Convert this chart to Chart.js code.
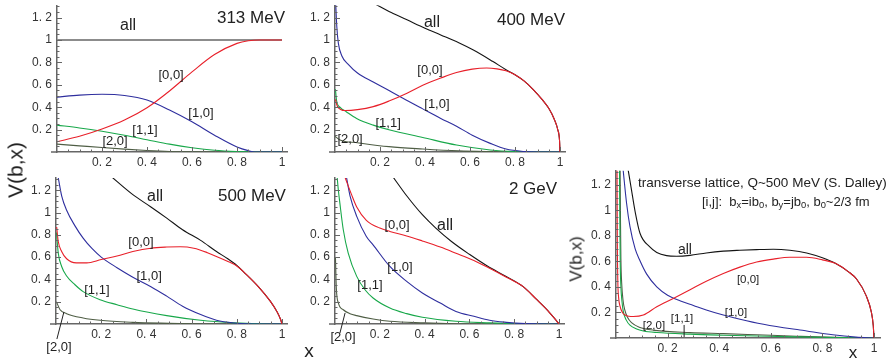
<!DOCTYPE html>
<html><head><meta charset="utf-8">
<script src="https://cdn.jsdelivr.net/npm/chart.js@4.4.1/dist/chart.umd.min.js"></script>
<style>
html,body{margin:0;padding:0;background:#fff;}
#wrap{position:relative;width:892px;height:359px;overflow:hidden;background:#fff;font-family:'Liberation Sans',Arial,sans-serif;color:#222;}
canvas{position:absolute;left:0;top:0;}
.lbl{position:absolute;white-space:nowrap;line-height:1;transform:translate(-50%,-50%);}
.rot{transform:translate(-50%,-50%) rotate(-90deg);}
</style></head><body>
<div id="wrap">
<canvas id="c313" width="892" height="359"></canvas>
<canvas id="c400" width="892" height="359"></canvas>
<canvas id="c500" width="892" height="359"></canvas>
<canvas id="c2g" width="892" height="359"></canvas>
<canvas id="clat" width="892" height="359"></canvas>
<div class="lbl rot" style="left:15px;top:170px;font-size:21px;">V(b,x)</div>
<div class="lbl rot" style="left:576px;top:259px;font-size:17px;">V(b,x)</div>
<div class="lbl" style="left:309px;top:350px;font-size:19px;">x</div>
<div class="lbl" style="left:853px;top:352px;font-size:17px;">x</div>
</div>
<script>
// ---------- tick labels ----------
const xTickValues = [0.2, 0.4, 0.6, 0.8, 1];
const xTickLabels = ['0. 2', '0. 4', '0. 6', '0. 8', '1'];
const yTickValues = [0.2, 0.4, 0.6, 0.8, 1, 1.2];
const yTickLabels = ['0. 2', '0. 4', '0. 6', '0. 8', '1', '1. 2'];
const seriesNames = ['all', '[0,0]', '[1,0]', '[1,1]', '[2,0]'];

// ---------- 313 MeV ----------
const mev313_all = [[0,1],[1,1]];
const mev313_00 = [[0,0.092],[0.1,0.14],[0.2,0.205],[0.3,0.285],[0.4,0.395],[0.5,0.545],[0.6,0.715],[0.7,0.87],[0.8,0.97],[0.85,0.993],[0.9,1],[1,1]];
const mev313_10 = [[0,0.49],[0.1,0.508],[0.2,0.515],[0.3,0.505],[0.4,0.465],[0.5,0.375],[0.6,0.27],[0.7,0.15],[0.8,0.045],[0.85,0.012],[0.88,0],[1,0]];
const mev313_11 = [[0,0.24],[0.1,0.215],[0.2,0.185],[0.3,0.15],[0.4,0.11],[0.5,0.07],[0.6,0.038],[0.7,0.015],[0.8,0.004],[0.9,0],[1,0]];
const mev313_20 = [[0,0.07],[0.1,0.055],[0.2,0.04],[0.3,0.026],[0.4,0.014],[0.5,0.005],[0.6,0.001],[0.7,0],[1,0]];

// ---------- 400 MeV ----------
const mev400_all = [[0.17,1.33],[0.25,1.245],[0.32,1.18],[0.4,1.105],[0.47,1.045],[0.55,0.975],[0.615,0.91],[0.7,0.81],[0.76,0.735],[0.8,0.69],[0.84,0.635],[0.88,0.56],[0.92,0.47],[0.95,0.39],[0.975,0.29],[0.99,0.2],[0.998,0.1],[1,0]];
const mev400_00 = [[0.002,0.47],[0.01,0.41],[0.025,0.38],[0.045,0.37],[0.1,0.378],[0.17,0.405],[0.24,0.455],[0.32,0.525],[0.39,0.595],[0.47,0.66],[0.54,0.71],[0.61,0.74],[0.674,0.75],[0.72,0.742],[0.76,0.725],[0.8,0.69],[0.84,0.635],[0.88,0.56],[0.92,0.47],[0.95,0.39],[0.975,0.29],[0.99,0.2],[0.998,0.1],[1,0]];
const mev400_10 = [[0.003,1.33],[0.008,1.12],[0.015,0.97],[0.03,0.86],[0.06,0.78],[0.1,0.705],[0.17,0.625],[0.244,0.545],[0.3,0.482],[0.39,0.385],[0.47,0.30],[0.54,0.23],[0.61,0.15],[0.69,0.077],[0.76,0.026],[0.84,0.004],[0.9,0],[1,0]];
const mev400_11 = [[0.002,0.56],[0.007,0.46],[0.022,0.40],[0.05,0.36],[0.096,0.30],[0.17,0.24],[0.244,0.196],[0.39,0.13],[0.54,0.062],[0.69,0.018],[0.8,0.003],[0.9,0],[1,0]];
const mev400_20 = [[0,0.14],[0.022,0.107],[0.1,0.083],[0.24,0.048],[0.39,0.027],[0.55,0.01],[0.7,0.003],[0.8,0],[1,0]];

// ---------- 500 MeV ----------
const mev500_all = [[0.24,1.33],[0.34,1.16],[0.42,1.05],[0.49,0.95],[0.56,0.845],[0.64,0.75],[0.71,0.65],[0.76,0.585],[0.8,0.525],[0.83,0.468],[0.9,0.325],[0.948,0.205],[0.978,0.11],[0.993,0.045],[1,0]];
const mev500_00 = [[0.003,0.87],[0.01,0.74],[0.025,0.65],[0.047,0.585],[0.09,0.548],[0.136,0.548],[0.2,0.578],[0.27,0.61],[0.34,0.65],[0.42,0.68],[0.49,0.69],[0.55,0.693],[0.61,0.68],[0.67,0.64],[0.756,0.565],[0.8,0.52],[0.83,0.468],[0.9,0.325],[0.948,0.205],[0.978,0.11],[0.993,0.045],[1,0]];
const mev500_10 = [[0.008,1.33],[0.01,1.31],[0.025,1.15],[0.047,1.02],[0.084,0.88],[0.12,0.77],[0.16,0.675],[0.2,0.6],[0.27,0.505],[0.34,0.42],[0.42,0.335],[0.49,0.25],[0.56,0.16],[0.64,0.085],[0.71,0.034],[0.79,0.009],[0.85,0.002],[0.9,0],[1,0]];
const mev500_11 = [[0.002,0.82],[0.01,0.636],[0.025,0.516],[0.047,0.43],[0.084,0.352],[0.12,0.29],[0.195,0.218],[0.27,0.173],[0.34,0.134],[0.49,0.075],[0.64,0.033],[0.79,0.01],[0.9,0.002],[1,0]];
const mev500_20 = [[0.002,0.2],[0.018,0.128],[0.047,0.093],[0.12,0.054],[0.195,0.033],[0.34,0.015],[0.5,0.006],[0.6,0.002],[0.7,0],[1,0]];

// ---------- 2 GeV ----------
const gev2_all = [[0.255,1.33],[0.32,1.15],[0.39,0.98],[0.45,0.86],[0.52,0.74],[0.6,0.625],[0.68,0.52],[0.76,0.43],[0.84,0.335],[0.9,0.22],[0.95,0.12],[0.98,0.05],[1,0]];
const gev2_00 = [[0.042,1.33],[0.074,1.16],[0.097,1.05],[0.14,0.93],[0.2,0.86],[0.245,0.83],[0.32,0.79],[0.39,0.745],[0.47,0.69],[0.54,0.635],[0.62,0.57],[0.69,0.50],[0.765,0.42],[0.84,0.335],[0.9,0.22],[0.95,0.12],[0.98,0.05],[1,0]];
const gev2_10 = [[0.05,1.33],[0.067,1.15],[0.097,0.965],[0.14,0.785],[0.17,0.71],[0.245,0.516],[0.32,0.382],[0.39,0.278],[0.47,0.188],[0.54,0.113],[0.62,0.069],[0.69,0.033],[0.765,0.015],[0.85,0.004],[0.95,0],[1,0]];
const gev2_11 = [[0.009,1.33],[0.015,1.2],[0.022,1.08],[0.037,0.845],[0.059,0.636],[0.097,0.427],[0.134,0.307],[0.17,0.233],[0.245,0.143],[0.32,0.093],[0.39,0.06],[0.54,0.024],[0.69,0.01],[0.8,0.003],[1,0]];
const gev2_20 = [[0.002,0.6],[0.006,0.32],[0.015,0.19],[0.037,0.128],[0.067,0.093],[0.097,0.075],[0.17,0.045],[0.245,0.024],[0.4,0.01],[0.5,0.004],[0.6,0],[1,0]];

// ---------- transverse lattice ----------
const lat_all = [[0.046,1.33],[0.06,1.16],[0.075,0.98],[0.093,0.82],[0.13,0.715],[0.158,0.67],[0.196,0.645],[0.235,0.64],[0.287,0.647],[0.35,0.666],[0.416,0.68],[0.48,0.687],[0.545,0.692],[0.61,0.695],[0.674,0.687],[0.739,0.666],[0.8,0.628],[0.85,0.585],[0.9,0.52],[0.933,0.46],[0.97,0.33],[0.99,0.2],[0.997,0.1],[1,0]];
const lat_00 = [[0.004,1.33],[0.005,0.8],[0.007,0.45],[0.01,0.32],[0.0155,0.25],[0.025,0.2],[0.035,0.18],[0.05,0.17],[0.067,0.168],[0.106,0.18],[0.158,0.245],[0.222,0.31],[0.287,0.378],[0.35,0.444],[0.416,0.505],[0.48,0.555],[0.545,0.595],[0.61,0.618],[0.674,0.632],[0.739,0.632],[0.8,0.612],[0.85,0.585],[0.9,0.52],[0.933,0.46],[0.97,0.33],[0.99,0.2],[0.997,0.1],[1,0]];
const lat_10 = [[0.027,1.33],[0.041,1.055],[0.054,0.874],[0.074,0.70],[0.093,0.605],[0.119,0.5],[0.158,0.4],[0.2,0.335],[0.25,0.29],[0.3,0.255],[0.35,0.22],[0.416,0.18],[0.453,0.16],[0.55,0.115],[0.65,0.08],[0.713,0.063],[0.84,0.025],[0.93,0.007],[1,0]];
const lat_11 = [[0.0135,1.33],[0.015,0.9],[0.0165,0.58],[0.019,0.4],[0.023,0.29],[0.028,0.21],[0.04,0.14],[0.054,0.1],[0.08,0.07],[0.106,0.055],[0.158,0.043],[0.287,0.03],[0.416,0.022],[0.545,0.016],[0.7,0.009],[0.85,0.004],[1,0]];
const lat_20 = [[0.016,1.33],[0.0175,0.9],[0.019,0.62],[0.022,0.43],[0.027,0.3],[0.034,0.22],[0.045,0.16],[0.06,0.12],[0.09,0.085],[0.15,0.06],[0.287,0.042],[0.416,0.034],[0.545,0.025],[0.7,0.014],[0.85,0.005],[1,0]];

// ---------- styling / layout ----------
const FONT = "'Liberation Sans', Arial, Helvetica, sans-serif";
const AXIS = '#666';
const COLORS = { all: '#141414', c00: '#e8202a', c10: '#2e2e9e', c11: '#18a84a', c20: '#4f5e45' };
const LINE_W = 1.1;
const XMAX = 1.025, YMAX = 1.31;
const YW = 40, XH = 18, W = 892, H = 359;

const GEOM = {
  c313: { x0: 57,  x1: 282, y0: 152, yu: 112 },
  c400: { x0: 335, x1: 560, y0: 152, yu: 112 },
  c500: { x0: 56,  x1: 282, y0: 324, yu: 111.5 },
  c2g:  { x0: 335, x1: 559, y0: 324, yu: 111.5 },
  clat: { x0: 616, x1: 874, y0: 338, yu: 127.7 }
};

const axisTicks = {
  id: 'axisTicks',
  afterDatasetsDraw(chart) {
    const { ctx, scales: { x, y } } = chart;
    const x0 = x.getPixelForValue(0), y0 = y.getPixelForValue(0);
    ctx.save();
    ctx.strokeStyle = AXIS;
    ctx.lineWidth = 1;
    ctx.beginPath();
    for (let i = 1; i * 0.05 <= YMAX + 1e-9; i++) {
      const py = Math.round(y.getPixelForValue(i * 0.05)) + 0.5;
      const L = i % 4 === 0 ? 5 : 2.5;
      ctx.moveTo(x0, py); ctx.lineTo(x0 + L, py);
    }
    for (let i = 1; i * 0.05 <= 1 + 1e-9; i++) {
      const px = Math.round(x.getPixelForValue(i * 0.05)) + 0.5;
      const L = i % 4 === 0 ? 5 : 2.5;
      ctx.moveTo(px, y0); ctx.lineTo(px, y0 - L);
    }
    ctx.stroke();
    ctx.lineWidth = 1.5;
    ctx.beginPath();
    ctx.moveTo(x0 - 6, Math.round(y0)); ctx.lineTo(x0, Math.round(y0));
    ctx.stroke();
    ctx.restore();
  }
};

const notesPlugin = {
  id: 'notes',
  afterDatasetsDraw(chart, args, opts) {
    const { ctx, scales: { x, y } } = chart;
    ctx.save();
    (opts.items || []).forEach(n => {
      if (n.line) {
        ctx.strokeStyle = '#222'; ctx.lineWidth = 1;
        ctx.beginPath();
        ctx.moveTo(x.getPixelForValue(n.line[0][0]), y.getPixelForValue(n.line[0][1]));
        ctx.lineTo(x.getPixelForValue(n.line[1][0]), y.getPixelForValue(n.line[1][1]));
        ctx.stroke();
        return;
      }
      const px = x.getPixelForValue(n.at[0]), py = y.getPixelForValue(n.at[1]);
      ctx.fillStyle = '#222';
      ctx.textBaseline = 'middle';
      if (n.rich) {
        ctx.textAlign = 'left';
        let cx = px;
        n.rich.forEach(seg => {
          const s = seg.sub ? n.size * 0.72 : n.size;
          ctx.font = s + 'px ' + FONT;
          ctx.fillText(seg.t, cx, py + (seg.sub ? n.size * 0.3 : 0));
          cx += ctx.measureText(seg.t).width;
        });
      } else {
        ctx.textAlign = n.align || 'center';
        ctx.font = n.size + 'px ' + FONT;
        ctx.fillText(n.text, px, py);
      }
    });
    ctx.restore();
  }
};

function makePanel(id, series, notes) {
  const g = GEOM[id];
  const left = g.x0, right = g.x0 + (g.x1 - g.x0) * XMAX;
  const top = g.y0 - g.yu * YMAX, bottom = g.y0;
  const datasets = series.map(s => ({
    label: s.name,
    data: s.points.map(p => ({ x: p[0], y: p[1] })),
    borderColor: s.color,
    borderWidth: s.width || LINE_W,
    pointRadius: 0,
    fill: false,
    cubicInterpolationMode: 'monotone',
    order: s.order
  }));
  new Chart(document.getElementById(id), {
    type: 'line',
    data: { datasets },
    options: {
      responsive: false, animation: false, devicePixelRatio: 1, events: [],
      layout: { padding: { left: left - YW, right: W - right, top: top, bottom: H - bottom - XH } },
      plugins: { legend: { display: false }, tooltip: { enabled: false }, notes: { items: notes } },
      scales: {
        x: {
          type: 'linear', min: 0, max: XMAX,
          grid: { display: false, drawTicks: false },
          border: { display: true, color: AXIS, width: 1.5 },
          afterBuildTicks: s => { s.ticks = xTickValues.map(v => ({ value: v })); },
          ticks: { autoSkip: false, maxRotation: 0, padding: 3, color: '#333', font: { family: FONT, size: 12 },
                   callback: v => xTickLabels[xTickValues.indexOf(v)] },
          afterFit: s => { s.height = XH; s.paddingLeft = 0; s.paddingRight = 0; s.paddingTop = 0; s.paddingBottom = 0; }
        },
        y: {
          type: 'linear', min: 0, max: YMAX,
          grid: { display: false, drawTicks: false },
          border: { display: true, color: AXIS, width: 1.5 },
          afterBuildTicks: s => { s.ticks = yTickValues.map(v => ({ value: v })); },
          ticks: { autoSkip: false, padding: 5, color: '#333', font: { family: FONT, size: 12 },
                   callback: v => yTickLabels[yTickValues.indexOf(v)] },
          afterFit: s => { s.width = YW; s.paddingLeft = 0; s.paddingRight = 0; s.paddingTop = 0; s.paddingBottom = 0; }
        }
      }
    },
    plugins: [axisTicks, notesPlugin]
  });
}

function std(all, c00, c10, c11, c20, allColor, allWidth) {
  return [
    { name: seriesNames[1], points: c00, color: COLORS.c00, order: 0 },
    { name: seriesNames[0], points: all, color: allColor || COLORS.all, width: allWidth, order: 1 },
    { name: seriesNames[2], points: c10, color: COLORS.c10, order: 2 },
    { name: seriesNames[3], points: c11, color: COLORS.c11, order: 3 },
    { name: seriesNames[4], points: c20, color: COLORS.c20, order: 4 }
  ];
}

makePanel('c313', std(mev313_all, mev313_00, mev313_10, mev313_11, mev313_20, '#8c8c8c', 2), [
  { text: '313 MeV', at: [0.862, 1.196], size: 17 },
  { text: 'all', at: [0.316, 1.125], size: 16 },
  { text: '[0,0]', at: [0.507, 0.6875], size: 13 },
  { text: '[1,0]', at: [0.64, 0.34], size: 13 },
  { text: '[1,1]', at: [0.391, 0.196], size: 13 },
  { text: '[2,0]', at: [0.258, 0.098], size: 13 }
]);
makePanel('c400', std(mev400_all, mev400_00, mev400_10, mev400_11, mev400_20), [
  { text: '400 MeV', at: [0.871, 1.179], size: 17 },
  { text: 'all', at: [0.431, 1.152], size: 16 },
  { text: '[0,0]', at: [0.422, 0.732], size: 13 },
  { text: '[1,0]', at: [0.453, 0.429], size: 13 },
  { text: '[1,1]', at: [0.236, 0.259], size: 13 },
  { text: '[2,0]', at: [0.067, 0.116], size: 13 }
]);
makePanel('c500', std(mev500_all, mev500_00, mev500_10, mev500_11, mev500_20), [
  { text: '500 MeV', at: [0.867, 1.148], size: 17 },
  { text: 'all', at: [0.438, 1.139], size: 16 },
  { text: '[0,0]', at: [0.376, 0.735], size: 13 },
  { text: '[1,0]', at: [0.412, 0.43], size: 13 },
  { text: '[1,1]', at: [0.181, 0.305], size: 13 },
  { text: '[2,0]', at: [0.013, -0.206], size: 13 },
  { line: [[0.035, 0.108], [0.004, -0.135]] }
]);
makePanel('c2g', std(gev2_all, gev2_00, gev2_10, gev2_11, gev2_20), [
  { text: '2 GeV', at: [0.884, 1.211], size: 17 },
  { text: 'all', at: [0.491, 0.879], size: 16 },
  { text: '[0,0]', at: [0.277, 0.888], size: 13 },
  { text: '[1,0]', at: [0.29, 0.511], size: 13 },
  { text: '[1,1]', at: [0.156, 0.35], size: 13 },
  { text: '[2,0]', at: [0.036, -0.117], size: 13 },
  { line: [[0.045, 0.099], [0.022, -0.081]] }
]);
makePanel('clat', std(lat_all, lat_00, lat_10, lat_11, lat_20), [
  { text: 'transverse lattice, Q~500 MeV (S. Dalley)', at: [0.085, 1.214], size: 13.5, align: 'left' },
  { rich: [{ t: '[i,j]:  b' }, { t: 'x', sub: true }, { t: '=ib' }, { t: '0', sub: true }, { t: ', b' }, { t: 'y', sub: true },
           { t: '=jb' }, { t: '0', sub: true }, { t: ', b' }, { t: '0', sub: true }, { t: '~2/3 fm' }], at: [0.333, 1.065], size: 13 },
  { text: 'all', at: [0.267, 0.689], size: 14 },
  { text: '[0,0]', at: [0.512, 0.454], size: 11.5 },
  { text: '[1,0]', at: [0.465, 0.196], size: 11.5 },
  { text: '[1,1]', at: [0.256, 0.149], size: 11.5 },
  { text: '[2,0]', at: [0.147, 0.094], size: 11.5 },
  { line: [[0.264, 0.102], [0.264, 0.008]] }
]);
</script>
</body></html>
